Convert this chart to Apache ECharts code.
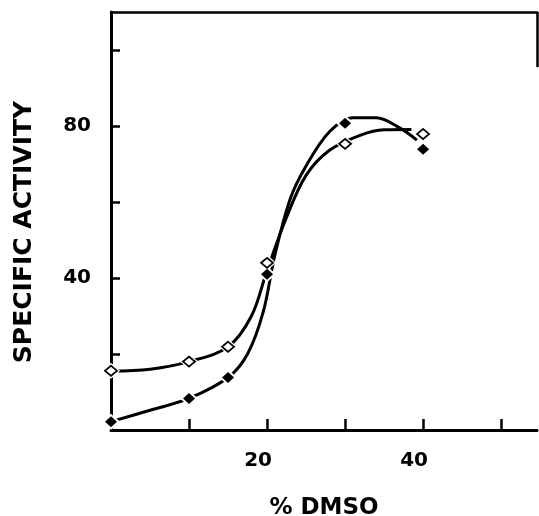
<!DOCTYPE html>
<html>
<head>
<meta charset="utf-8">
<script src="https://cdn.jsdelivr.net/npm/echarts@6/dist/echarts.min.js"></script>
<style>
html,body{margin:0;padding:0;background:#fff;}
#c{width:539px;height:516px;}
</style>
</head>
<body>
<div id="c"></div>
<script>
// Measured points (% DMSO, specific activity)
var openPoints = [[0, 15.6], [10, 18.0], [15, 21.9], [20, 44.0], [30, 75.3], [40, 77.9]];
var filledPoints = [[0, 2.2], [10, 8.3], [15, 13.8], [20, 41.0], [30, 80.7], [40, 73.9]];
// Hand-drawn fitted curves
var openCurve = [[0, 15.5], [5, 16.0], [10, 18.0], [15, 21.9], [18, 30.0], [20, 42.0], [22.5, 56.0], [25, 67.0], [28, 73.6], [32, 77.6], [35, 79.0], [38.5, 79.1]];
var filledCurve = [[0, 2.2], [5, 5.2], [10, 8.3], [15, 13.8], [17.5, 20.0], [19.5, 31.0], [21, 46.0], [23, 61.0], [25, 69.5], [28, 78.5], [31, 82.2], [34, 82.2], [37, 79.5], [39.2, 76.3]];
var xTicks = [10, 20, 30, 40, 50];
var xLabels = [20, 40];
var yTicks = [20, 40, 60, 80, 100];
var yLabels = [40, 80];
var xMax = 54.6, yMax = 110;

var FONT = 'DejaVu Sans';
var chart = echarts.init(document.getElementById('c'), null, {renderer: 'canvas'});
chart.setOption({
  animation: false,
  backgroundColor: '#fff',
  grid: {left: 111, right: 2, top: 12, bottom: 86, containLabel: false, outerBoundsMode: 'none'},
  xAxis: [{
    type: 'value', min: 0, max: xMax, position: 'bottom',
    name: '% DMSO', nameLocation: 'middle', nameGap: 67,
    nameTextStyle: {fontFamily: FONT, fontWeight: 'bold', fontSize: 23, color: '#000'},
    axisLine: {show: true, lineStyle: {color: '#000', width: 3}},
    axisTick: {show: true, inside: true, length: 11, customValues: xTicks, lineStyle: {color: '#000', width: 2.5}},
    axisLabel: {show: true, customValues: xLabels, margin: 21, fontFamily: FONT, fontWeight: 'bold', fontSize: 20, color: '#000', padding: [0, 18, 0, 0]},
    splitLine: {show: false}
  }, {
    type: 'value', min: 0, max: xMax, position: 'top',
    axisLine: {show: true, lineStyle: {color: '#000', width: 2.5}},
    axisTick: {show: false}, axisLabel: {show: false}, splitLine: {show: false}
  }],
  yAxis: {
    type: 'value', min: 0, max: yMax,
    name: 'SPECIFIC ACTIVITY', nameLocation: 'middle', nameGap: 74, nameRotate: 90,
    nameTextStyle: {fontFamily: FONT, fontWeight: 'bold', fontSize: 25, color: '#000', padding: [0, 22, 0, 0]},
    axisLine: {show: true, lineStyle: {color: '#000', width: 3}},
    axisTick: {show: true, inside: true, length: 9, customValues: yTicks, lineStyle: {color: '#000', width: 2.5}},
    axisLabel: {show: true, customValues: yLabels, margin: 20, fontFamily: FONT, fontWeight: 'bold', fontSize: 20, color: '#000'},
    splitLine: {show: false}
  },
  series: [
    {type: 'line', data: openCurve, smooth: 0.35, showSymbol: false, symbol: 'none',
      lineStyle: {color: '#000', width: 3}, z: 2,
      markLine: {silent: true, symbol: 'none', label: {show: false},
        lineStyle: {color: '#000', width: 2.5, type: 'solid'},
        data: [[{coord: [xMax, 95.5]}, {coord: [xMax, yMax]}]]}},
    {type: 'line', data: filledCurve, smooth: 0.35, showSymbol: false, symbol: 'none',
      lineStyle: {color: '#000', width: 3}, z: 2},
    {type: 'scatter', data: openPoints, symbol: 'diamond', symbolSize: [18, 16],
      itemStyle: {color: '#fff', opacity: 1}, z: 3},
    {type: 'scatter', data: filledPoints, symbol: 'diamond', symbolSize: [18, 16],
      itemStyle: {color: '#fff', opacity: 1}, z: 3},
    {type: 'scatter', data: openPoints, symbol: 'diamond', symbolSize: [12, 10],
      itemStyle: {color: '#fff', borderColor: '#000', borderWidth: 1.8, opacity: 1}, z: 4},
    {type: 'scatter', data: filledPoints, symbol: 'diamond', symbolSize: [12, 11],
      itemStyle: {color: '#000', opacity: 1}, z: 4}
  ]
});
</script>
</body>
</html>
